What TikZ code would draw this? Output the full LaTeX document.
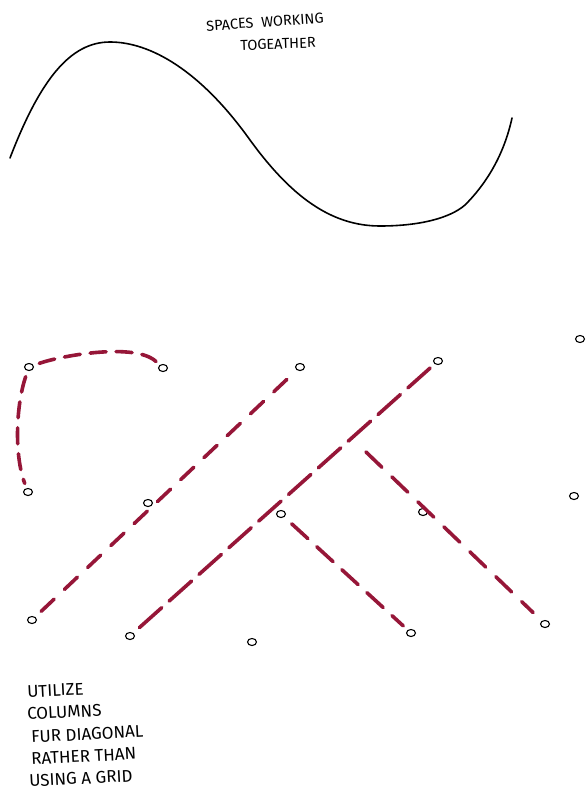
\documentclass[tikz,border=0pt]{standalone}
\usepackage{fontspec}
\setmainfont{Fira Sans}
\usetikzlibrary{shapes.geometric}
\definecolor{wine}{RGB}{150,22,56}
\tikzset{
  col/.style={draw=black, line width=1.1pt, ellipse, inner sep=0pt, minimum width=9pt, minimum height=7pt},
  path1/.style={draw=wine, line width=3.6pt, line cap=round, dash pattern=on 18pt off 14pt, shorten >=6pt, shorten <=8pt},
  arcpath/.style={draw=wine, line width=3.6pt, line cap=round, dash pattern=on 16pt off 10pt, shorten >=5pt, shorten <=6pt},
  wave/.style={draw=black, line width=1.6pt, line cap=round},
  titletext/.style={font=\fontsize{14.5}{16}\selectfont, inner sep=0pt},
  hand/.style={font=\fontsize{17}{20}\selectfont, anchor=west, inner sep=0pt, rotate=3}
}
\begin{document}
\begin{tikzpicture}[x=1pt,y=-1pt]
\useasboundingbox[fill=white] (0,0) rectangle (586,800);
% title
\node[titletext, rotate=4] (title1) at (265,22) {SPACES\ \ WORKING};
\node[titletext, rotate=2] (title2) at (278,44) {TOGEATHER};
% wave
\draw[wave] (10,158) .. controls (40,80) and (70,42) .. (110,42) .. controls (150,42) and (200,70) .. (250,140) .. controls (290,195) and (330,226) .. (380,226) .. controls (420,226) and (450,218) .. (465,205) .. controls (490,180) and (505,150) .. (512,118);
% column marks
\node[col] (c1) at (29,367) {};
\node[col] (c2) at (163,368) {};
\node[col] (c3) at (28,492) {};
\node[col] (c4) at (148,503) {};
\node[col] (c5) at (300,367) {};
\node[col] (c6) at (32,620) {};
\node[col] (c7) at (438,361) {};
\node[col] (c8) at (130,636) {};
\node[col] (c9) at (281,514) {};
\node[col] (c10) at (423,512) {};
\node[col] (c11) at (411,633) {};
\node[col] (c12) at (545,624) {};
\node[col] (c13) at (252,642) {};
\node[col] (c14) at (574,496) {};
\node[col] (c15) at (580,339) {};
\coordinate (b4) at (366,452);
% dashed paths
\draw[arcpath] (c1) .. controls (16,405) and (14,455) .. (c3);
\draw[arcpath] (c1) .. controls (60,356) and (135,342) .. (c2);
\draw[path1] (c6) -- (c5);
\draw[path1, dash pattern=on 30pt off 10pt] (c8) -- (c7);
\draw[path1, dash pattern=on 22pt off 12pt, shorten <=10pt] (c9) -- (c11);
\draw[path1, dash pattern=on 22pt off 14pt, shorten <=0pt, shorten >=12pt] (b4) -- (c12);
% note
\node[hand] (n1) at (27,692) {UTILIZE};
\node[hand] (n2) at (27,714) {COLUMNS};
\node[hand] (n3) at (31,737) {FUR DIAGONAL};
\node[hand] (n4) at (31,759) {RATHER THAN};
\node[hand] (n5) at (29,781) {USING A GRID};
\end{tikzpicture}
\end{document}
